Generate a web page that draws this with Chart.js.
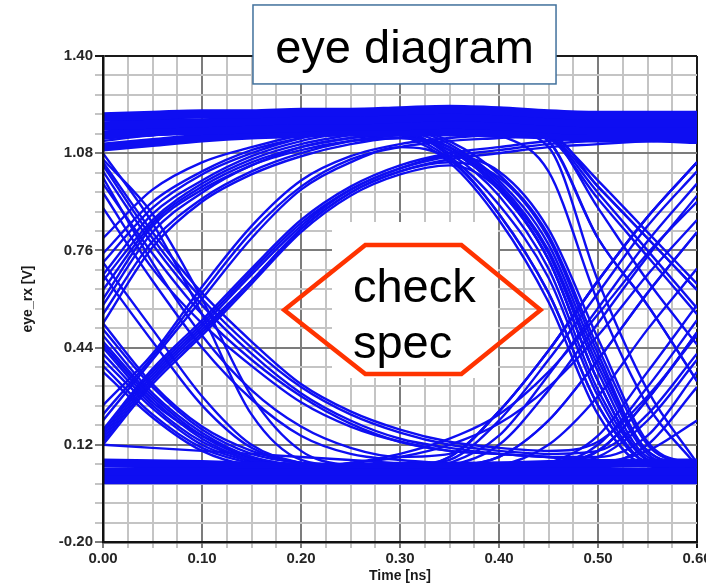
<!DOCTYPE html>
<html>
<head>
<meta charset="utf-8">
<title>eye diagram</title>
<script src="https://cdn.jsdelivr.net/npm/chart.js@4.4.1/dist/chart.umd.min.js"></script>
<style>
  html, body { margin: 0; padding: 0; background: #fff; }
  #wrap { width: 706px; height: 588px; }
</style>
</head>
<body>
<div id="wrap"><canvas id="chart" width="706" height="588"></canvas></div>
<script>
// Tijdas (ns) waarop elke trace bemonsterd is
const timeNs = [0, 0.05, 0.10, 0.15, 0.20, 0.25, 0.30, 0.35, 0.40, 0.45, 0.50, 0.55, 0.60];

// Aslabels
const xTickLabels = [0.00, 0.10, 0.20, 0.30, 0.40, 0.50, 0.60];
const yTickLabels = [-0.20, 0.12, 0.44, 0.76, 1.08, 1.40];

// Dikke banden: logisch 1 en logisch 0
const highBand = [
  [1.20, 1.205, 1.21, 1.21, 1.215, 1.215, 1.22, 1.225, 1.22, 1.21, 1.205, 1.205, 1.205],
  [1.17, 1.175, 1.18, 1.185, 1.19, 1.19, 1.195, 1.20, 1.195, 1.185, 1.18, 1.18, 1.18],
  [1.14, 1.15, 1.155, 1.16, 1.165, 1.17, 1.17, 1.175, 1.17, 1.16, 1.155, 1.155, 1.155],
  [1.10, 1.115, 1.13, 1.14, 1.145, 1.15, 1.15, 1.15, 1.145, 1.14, 1.13, 1.13, 1.125]
];
const lowBand = [
  [0.005, 0.005, 0.005, 0.005, 0.005, 0.005, 0.005, 0.005, 0.005, 0.005, 0.005, 0.005, 0.005],
  [0.03, 0.03, 0.03, 0.028, 0.028, 0.028, 0.028, 0.028, 0.03, 0.03, 0.03, 0.03, 0.03],
  [0.06, 0.058, 0.055, 0.05, 0.048, 0.045, 0.045, 0.047, 0.05, 0.055, 0.058, 0.06, 0.06]
];

// Vroege stijgende flanken (links boven)
const riseEarly = [
  [0.63, 0.85, 0.97, 1.05, 1.10, 1.13, 1.15, 1.16, 1.16, 1.16, 1.15, 1.15, 1.16],
  [0.58, 0.82, 0.95, 1.04, 1.09, 1.12, 1.13, 1.09, 0.96, 0.73, 0.33, 0.07, 0.04],
  [0.68, 0.88, 0.99, 1.07, 1.12, 1.15, 1.17, 1.18, 1.17, 1.14, 0.97, 0.80, 0.63],
  [0.72, 0.90, 1.01, 1.08, 1.13, 1.16, 1.18, 1.19, 1.18, 1.12, 0.80, 0.58, 0.33],
  [0.55, 0.79, 0.93, 1.02, 1.08, 1.12, 1.14, 1.15, 1.15, 1.15, 1.14, 1.14, 1.14],
  [0.80, 0.96, 1.05, 1.10, 1.14, 1.17, 1.18, 1.19, 1.19, 1.18, 1.18, 1.18, 1.18],
  [0.60, 0.84, 0.96, 1.04, 1.10, 1.13, 1.14, 1.15, 1.15, 1.15, 1.14, 1.14, 1.15],
  [0.66, 0.86, 0.98, 1.06, 1.11, 1.14, 1.16, 1.17, 1.16, 1.13, 0.93, 0.74, 0.55],
  [0.52, 0.77, 0.92, 1.01, 1.07, 1.11, 1.13, 1.10, 0.98, 0.76, 0.38, 0.09, 0.04],
  [0.75, 0.92, 1.02, 1.09, 1.13, 1.16, 1.17, 1.18, 1.18, 1.17, 1.17, 1.17, 1.17]
];

// Dalende flanken die de onderkant van het oog vormen
const fallEyeBottom = [
  [1.05, 0.82, 0.62, 0.46, 0.32, 0.23, 0.17, 0.13, 0.11, 0.10, 0.13, 0.28, 0.48],
  [1.02, 0.78, 0.58, 0.42, 0.29, 0.20, 0.14, 0.11, 0.09, 0.08, 0.06, 0.05, 0.05],
  [1.00, 0.72, 0.48, 0.30, 0.18, 0.11, 0.08, 0.09, 0.23, 0.43, 0.66, 0.87, 1.05],
  [1.08, 0.85, 0.55, 0.22, 0.07, 0.05, 0.04, 0.04, 0.04, 0.04, 0.04, 0.04, 0.04],
  [0.95, 0.70, 0.52, 0.38, 0.26, 0.18, 0.13, 0.10, 0.09, 0.08, 0.08, 0.15, 0.36],
  [1.04, 0.80, 0.60, 0.44, 0.31, 0.22, 0.16, 0.12, 0.10, 0.09, 0.10, 0.22, 0.42],
  [0.98, 0.75, 0.55, 0.40, 0.28, 0.19, 0.13, 0.10, 0.09, 0.08, 0.07, 0.06, 0.06],
  [1.06, 0.88, 0.60, 0.28, 0.10, 0.05, 0.04, 0.04, 0.04, 0.04, 0.04, 0.04, 0.04],
  [0.90, 0.66, 0.44, 0.27, 0.15, 0.09, 0.07, 0.06, 0.06, 0.06, 0.06, 0.06, 0.06]
];

// Dikke dalende bundel links midden
const fallMid = [
  [0.45, 0.27, 0.14, 0.07, 0.05, 0.04, 0.04, 0.04, 0.04, 0.04, 0.04, 0.04, 0.04],
  [0.42, 0.25, 0.13, 0.07, 0.05, 0.05, 0.05, 0.08, 0.23, 0.43, 0.66, 0.87, 1.05],
  [0.48, 0.29, 0.16, 0.08, 0.05, 0.04, 0.04, 0.04, 0.05, 0.06, 0.10, 0.27, 0.49],
  [0.38, 0.22, 0.11, 0.06, 0.04, 0.06, 0.09, 0.14, 0.22, 0.36, 0.55, 0.75, 0.92],
  [0.50, 0.31, 0.17, 0.09, 0.06, 0.05, 0.04, 0.04, 0.04, 0.05, 0.06, 0.10, 0.20],
  [0.44, 0.26, 0.15, 0.08, 0.05, 0.04, 0.04, 0.05, 0.08, 0.20, 0.40, 0.62, 0.82],
  [0.72, 0.50, 0.28, 0.12, 0.06, 0.04, 0.04, 0.04, 0.04, 0.04, 0.04, 0.04, 0.04],
  [0.12, 0.11, 0.10, 0.09, 0.08, 0.07, 0.06, 0.06, 0.06, 0.06, 0.06, 0.06, 0.06],
  [0.46, 0.28, 0.15, 0.075, 0.05, 0.04, 0.04, 0.04, 0.04, 0.04, 0.04, 0.04, 0.04],
  [0.40, 0.24, 0.12, 0.065, 0.045, 0.04, 0.04, 0.04, 0.04, 0.04, 0.04, 0.04, 0.04],
  [0.52, 0.32, 0.18, 0.10, 0.06, 0.05, 0.04, 0.04, 0.04, 0.04, 0.05, 0.12, 0.31],
  [0.36, 0.21, 0.10, 0.05, 0.04, 0.04, 0.04, 0.04, 0.04, 0.04, 0.04, 0.04, 0.04],
  [0.68, 0.46, 0.25, 0.11, 0.06, 0.04, 0.04, 0.04, 0.04, 0.04, 0.04, 0.04, 0.04]
];

// Trage stijgende flanken (bovenkant van het oog)
const riseSlow = [
  [0.14, 0.34, 0.50, 0.66, 0.83, 0.95, 1.02, 1.06, 1.08, 1.10, 1.11, 1.12, 1.13],
  [0.12, 0.32, 0.48, 0.65, 0.82, 0.94, 1.01, 1.04, 0.96, 0.73, 0.33, 0.07, 0.04],
  [0.25, 0.42, 0.64, 0.84, 0.99, 1.07, 1.11, 1.13, 1.14, 1.14, 0.97, 0.80, 0.63],
  [0.20, 0.40, 0.60, 0.80, 0.96, 1.05, 1.10, 1.06, 0.88, 0.62, 0.25, 0.06, 0.04],
  [0.17, 0.37, 0.53, 0.70, 0.86, 0.97, 1.04, 1.08, 1.10, 1.12, 1.13, 1.14, 1.14],
  [0.15, 0.35, 0.51, 0.68, 0.84, 0.96, 1.03, 1.07, 1.09, 1.11, 1.12, 1.12, 1.13],
  [0.22, 0.41, 0.62, 0.82, 0.97, 1.06, 1.10, 1.12, 1.13, 1.14, 1.14, 1.15, 1.15],
  [0.13, 0.33, 0.49, 0.66, 0.83, 0.95, 1.02, 1.05, 1.00, 0.80, 0.42, 0.10, 0.05],
  [0.16, 0.36, 0.52, 0.69, 0.85, 0.96, 1.03, 1.07, 1.02, 0.83, 0.47, 0.13, 0.05]
];

// Dalende flanken rechts (rechterkant van het oog)
const fallRight = [
  [1.12, 1.14, 1.15, 1.16, 1.16, 1.16, 1.14, 1.09, 0.96, 0.73, 0.33, 0.07, 0.04],
  [1.15, 1.16, 1.17, 1.17, 1.17, 1.17, 1.15, 1.06, 0.88, 0.62, 0.25, 0.06, 0.04],
  [1.18, 1.18, 1.19, 1.19, 1.19, 1.19, 1.17, 1.11, 0.99, 0.78, 0.40, 0.10, 0.05],
  [1.19, 1.19, 1.20, 1.20, 1.20, 1.20, 1.20, 1.19, 1.16, 1.10, 0.66, 0.30, 0.06],
  [1.16, 1.17, 1.17, 1.18, 1.18, 1.18, 1.18, 1.17, 1.14, 1.02, 0.59, 0.25, 0.05],
  [1.13, 1.15, 1.16, 1.16, 1.16, 1.16, 1.15, 1.08, 0.94, 0.70, 0.30, 0.07, 0.04],
  [1.17, 1.17, 1.18, 1.18, 1.18, 1.18, 1.16, 1.10, 0.97, 0.75, 0.36, 0.08, 0.05],
  [1.14, 1.15, 1.16, 1.17, 1.17, 1.17, 1.16, 1.07, 0.91, 0.67, 0.28, 0.06, 0.04],
  [1.16, 1.16, 1.17, 1.17, 1.18, 1.18, 1.17, 1.12, 1.01, 0.81, 0.44, 0.12, 0.05],
  [1.13, 1.14, 1.15, 1.16, 1.16, 1.16, 1.14, 1.05, 0.86, 0.59, 0.22, 0.05, 0.04]
];

// Late dalende flanken helemaal rechts
const fallOuter = [
  [1.20, 1.20, 1.20, 1.21, 1.21, 1.21, 1.21, 1.20, 1.19, 1.15, 0.99, 0.82, 0.65],
  [1.17, 1.18, 1.18, 1.19, 1.19, 1.19, 1.19, 1.19, 1.17, 1.12, 0.80, 0.58, 0.33],
  [1.13, 1.14, 1.15, 1.16, 1.17, 1.18, 1.18, 1.18, 1.17, 1.14, 0.90, 0.66, 0.45],
  [1.19, 1.19, 1.20, 1.20, 1.20, 1.20, 1.20, 1.20, 1.18, 1.14, 0.95, 0.76, 0.57]
];

// Stijgende flanken rechts
const riseRight = [
  [0.03, 0.03, 0.03, 0.03, 0.03, 0.04, 0.05, 0.08, 0.23, 0.43, 0.66, 0.87, 1.05],
  [0.01, 0.01, 0.01, 0.02, 0.02, 0.02, 0.03, 0.05, 0.12, 0.30, 0.52, 0.74, 0.94],
  [0.05, 0.05, 0.05, 0.04, 0.04, 0.04, 0.04, 0.05, 0.08, 0.20, 0.40, 0.62, 0.82],
  [0.02, 0.02, 0.02, 0.02, 0.02, 0.03, 0.03, 0.03, 0.05, 0.12, 0.28, 0.50, 0.70],
  [0.06, 0.06, 0.05, 0.05, 0.05, 0.06, 0.08, 0.12, 0.19, 0.31, 0.48, 0.68, 0.86],
  [0.04, 0.04, 0.04, 0.04, 0.04, 0.04, 0.05, 0.07, 0.20, 0.40, 0.62, 0.84, 1.02],
  [0.03, 0.03, 0.03, 0.03, 0.03, 0.03, 0.04, 0.06, 0.15, 0.35, 0.57, 0.79, 0.98]
];

// Zeer late stijgende flanken
const riseLate = [
  [0.04, 0.04, 0.04, 0.04, 0.04, 0.04, 0.04, 0.04, 0.05, 0.06, 0.10, 0.27, 0.49],
  [0.02, 0.02, 0.02, 0.02, 0.02, 0.02, 0.02, 0.03, 0.04, 0.06, 0.15, 0.36, 0.58],
  [0.06, 0.06, 0.05, 0.05, 0.05, 0.05, 0.05, 0.05, 0.05, 0.05, 0.08, 0.20, 0.40],
  [0.03, 0.03, 0.03, 0.03, 0.03, 0.03, 0.03, 0.03, 0.04, 0.05, 0.12, 0.31, 0.53]
];

// Annotaties (in data-eenheden)
const titleBox = { x0: 0.1515, x1: 0.4576, yTop: 1.568, yBottom: 1.308, text: 'eye diagram', baseline: 1.377 };
const specHex = [[0.183, 0.564], [0.265, 0.778], [0.362, 0.778], [0.442, 0.564], [0.362, 0.353], [0.265, 0.353]];
const specBox = { x0: 0.2313, x1: 0.3990, yTop: 0.8535, yBottom: 0.3399 };
const specText = [{ text: 'check', x: 0.2525, y: 0.590 }, { text: 'spec', x: 0.2525, y: 0.4058 }];

const FONT = "'Liberation Sans', Arial, Helvetica, sans-serif";
const TRACE_BLUE = 'rgb(14,14,242)';

// Grote + kleine tick-posities tussen de gelabelde waarden
function buildTicks(labels, sub) {
  const out = [];
  for (let i = 0; i < labels.length - 1; i++) {
    const a = labels[i], b = labels[i + 1];
    for (let k = 0; k < sub; k++) out.push({ value: a + (b - a) * k / sub, major: k === 0 });
  }
  out.push({ value: labels[labels.length - 1], major: true });
  return out;
}

function gridColor(ctx, edgeValue) {
  const t = ctx.tick;
  if (!t) return '#c4c4c4';
  if (Math.abs(t.value - edgeValue) < 1e-9) return '#1a1a1a';
  return t.major ? '#7c7c7c' : '#c4c4c4';
}

function trace(ys, width) {
  return {
    data: timeNs.map((t, i) => ({ x: t, y: ys[i] })),
    borderColor: TRACE_BLUE,
    borderWidth: width,
    pointRadius: 0,
    fill: false,
    cubicInterpolationMode: 'monotone',
    borderCapStyle: 'butt'
  };
}

const datasets = [
  ...highBand.map(ys => trace(ys, 9)),
  ...lowBand.map(ys => trace(ys, 9)),
  ...[...riseEarly, ...fallEyeBottom, ...fallMid, ...riseSlow, ...fallRight, ...fallOuter, ...riseRight, ...riseLate]
    .map(ys => trace(ys, 2.4))
];

// Annotaties bovenop de grafiek
const overlayPlugin = {
  id: 'overlay',
  afterDraw(chart) {
    const { ctx, scales: { x, y } } = chart;
    ctx.save();

    // "eye diagram" kader
    const bx0 = x.getPixelForValue(titleBox.x0), bx1 = x.getPixelForValue(titleBox.x1);
    const by0 = y.getPixelForValue(titleBox.yTop), by1 = y.getPixelForValue(titleBox.yBottom);
    ctx.fillStyle = '#fff';
    ctx.fillRect(bx0, by0, bx1 - bx0, by1 - by0);
    ctx.strokeStyle = '#41719c';
    ctx.lineWidth = 1.5;
    ctx.strokeRect(bx0, by0, bx1 - bx0, by1 - by0);
    ctx.fillStyle = '#000';
    ctx.font = `47px ${FONT}`;
    ctx.textAlign = 'center';
    ctx.textBaseline = 'alphabetic';
    ctx.fillText(titleBox.text, (bx0 + bx1) / 2, y.getPixelForValue(titleBox.baseline));

    // witte tekstvak + zeshoek
    const sx0 = x.getPixelForValue(specBox.x0), sx1 = x.getPixelForValue(specBox.x1);
    const sy0 = y.getPixelForValue(specBox.yTop), sy1 = y.getPixelForValue(specBox.yBottom);
    ctx.fillStyle = '#fff';
    ctx.fillRect(sx0, sy0, sx1 - sx0, sy1 - sy0);
    ctx.beginPath();
    specHex.forEach(([vx, vy], i) => {
      const px = x.getPixelForValue(vx), py = y.getPixelForValue(vy);
      if (i === 0) ctx.moveTo(px, py); else ctx.lineTo(px, py);
    });
    ctx.closePath();
    ctx.strokeStyle = '#ff3300';
    ctx.lineWidth = 4.5;
    ctx.lineJoin = 'miter';
    ctx.stroke();
    ctx.fillStyle = '#000';
    ctx.textAlign = 'left';
    specText.forEach(t => ctx.fillText(t.text, x.getPixelForValue(t.x), y.getPixelForValue(t.y)));

    ctx.restore();
  }
};

const tickFont = { family: FONT, size: 15, weight: 'bold' };
const titleFont = { family: FONT, size: 14, weight: 'bold' };

new Chart(document.getElementById('chart').getContext('2d'), {
  type: 'line',
  data: { datasets },
  options: {
    responsive: false,
    animation: false,
    events: [],
    layout: { padding: { top: 56, right: 9, left: 0, bottom: 0 } },
    plugins: { legend: { display: false }, tooltip: { enabled: false } },
    scales: {
      x: {
        type: 'linear', min: 0, max: 0.6,
        afterBuildTicks: s => { s.ticks = buildTicks(xTickLabels, 4); },
        afterFit: s => { s.height = 46; s.paddingLeft = 0; s.paddingRight = 0; },
        grid: { color: c => gridColor(c, 0.6), lineWidth: 2, tickLength: 6 },
        border: { display: true, color: '#111', width: 2.5, z: 1 },
        ticks: {
          autoSkip: false, maxRotation: 0, padding: 2, color: '#262626', font: tickFont,
          callback: (v, i, ticks) => ticks[i].major ? Number(v).toFixed(2) : ''
        },
        title: { display: true, text: 'Time [ns]', color: '#1a1a1a', font: titleFont, padding: { top: 0, bottom: 3 } }
      },
      y: {
        type: 'linear', min: -0.2, max: 1.4,
        afterBuildTicks: s => { s.ticks = buildTicks(yTickLabels, 5); },
        afterFit: s => { s.width = 103; s.paddingTop = 0; s.paddingBottom = 0; },
        grid: { color: c => gridColor(c, 1.4), lineWidth: 2, tickLength: 8 },
        border: { display: true, color: '#111', width: 2.5, z: 1 },
        ticks: {
          autoSkip: false, padding: 2, color: '#262626', font: tickFont,
          callback: (v, i, ticks) => ticks[i].major ? Number(v).toFixed(2) : ''
        },
        title: { display: true, text: 'eye_rx [V]', color: '#1a1a1a', font: titleFont, padding: { top: 20, bottom: 0 } }
      }
    }
  },
  plugins: [overlayPlugin]
});
</script>
</body>
</html>
